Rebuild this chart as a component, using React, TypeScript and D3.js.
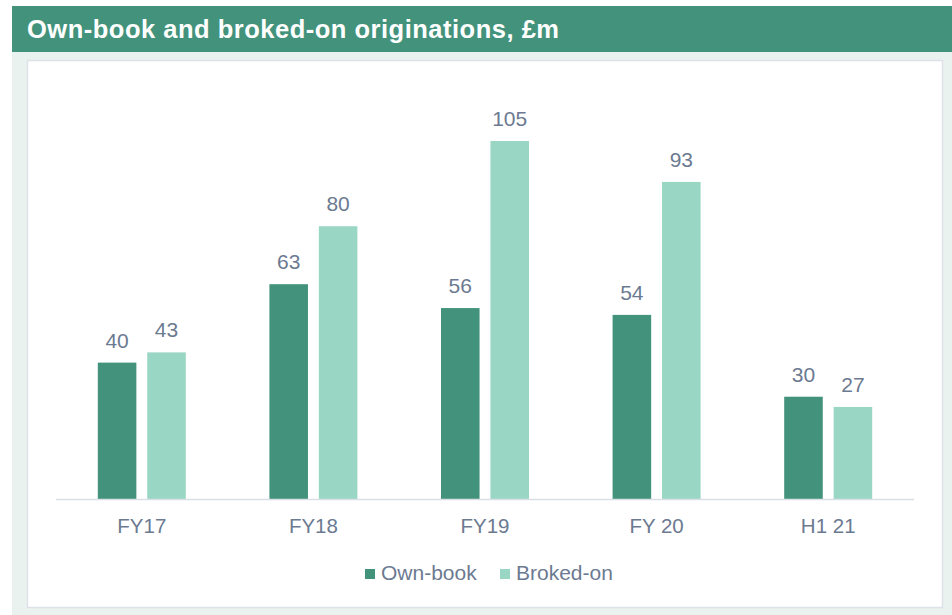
import React from 'react';
import * as d3 from 'd3';

// data
const periods = ['FY17', 'FY18', 'FY19', 'FY 20', 'H1 21'];
const ownBook = [40, 63, 56, 54, 30];
const brokedOn = [43, 80, 105, 93, 27];
const seriesNames = ['Own-book', 'Broked-on'];

const W = 952;
const H = 615;
const dark = '#43937c';
const light = '#99d7c4';
const textCol = '#6c7a91';
const font = 'Arial, "Liberation Sans", sans-serif';

export default function App() {
  // band scale for the periods, inner band for the two series
  const x = d3.scaleBand().domain(periods).range([56, 914]);
  const inner = d3.scaleBand().domain(seriesNames).range([x.bandwidth() / 2 - 44, x.bandwidth() / 2 + 44]).paddingInner(0.22);
  const y = d3.scaleLinear().domain([0, 105]).range([499, 141]);
  const colors = [dark, light];
  const series = [ownBook, brokedOn];

  return (
    <svg width={W} height={H} style={{ position: 'absolute', left: 0, top: 0, fontFamily: font }}>
      {/* title bar */}
      <rect x={12} y={6} width={W - 12} height={46} fill={dark} />
      <text x={27} y={38} fill="#fff" fontSize={25.5} fontWeight="bold" textLength={532} lengthAdjust="spacing">
        Own-book and broked-on originations, £m
      </text>
      {/* panel */}
      <rect x={12} y={52} width={W - 12} height={H - 52} fill="#eaf2ef" />
      <rect x={27.5} y={60.5} width={915} height={547} fill="#fff" stroke="#dde1e8" strokeWidth={1.5} />

      {series.map((vals, si) => (
        <g key={si}>
          {periods.map((p, i) => {
            const bx = (x(p) ?? 0) + (inner(seriesNames[si]) ?? 0);
            const bw = inner.bandwidth();
            return (
              <g key={p}>
                <rect x={bx} y={y(vals[i])} width={bw} height={y(0) - y(vals[i])} fill={colors[si]} />
                <text x={bx + bw / 2} y={y(vals[i]) - 15} textAnchor="middle" fontSize={21} fill={textCol}>
                  {vals[i]}
                </text>
              </g>
            );
          })}
        </g>
      ))}

      {/* axis */}
      <line x1={56} x2={914} y1={499.5} y2={499.5} stroke="#dadee5" strokeWidth={1.5} />
      {periods.map((p) => (
        <text key={p} x={(x(p) ?? 0) + x.bandwidth() / 2} y={533} textAnchor="middle" fontSize={20.5} fill={textCol}>
          {p}
        </text>
      ))}

      {/* legend */}
      <g>
        <rect x={365} y={569} width={10} height={10} fill={dark} />
        <text x={381} y={580} fontSize={21} fill={textCol}>Own-book</text>
        <rect x={500} y={569} width={10} height={10} fill={light} />
        <text x={516} y={580} fontSize={21} fill={textCol}>Broked-on</text>
      </g>
    </svg>
  );
}
